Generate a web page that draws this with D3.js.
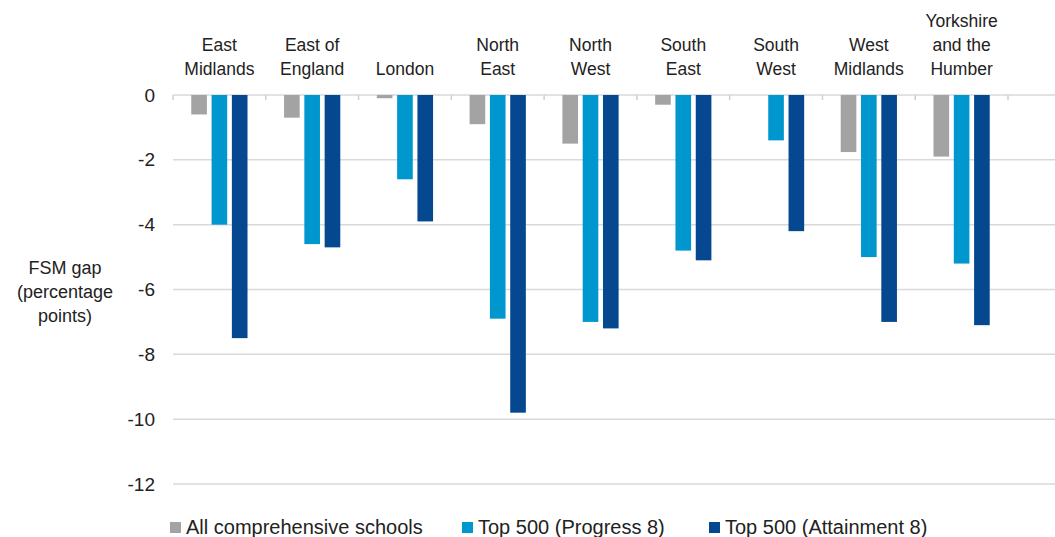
<!DOCTYPE html>
<html>
<head>
<meta charset="utf-8">
<script src="https://cdn.jsdelivr.net/npm/d3@7"></script>
<style>
  html, body { margin: 0; padding: 0; background: #fff; }
  svg { display: block; font-family: "Liberation Sans", Arial, sans-serif; }
</style>
</head>
<body>
<svg id="chart" width="1055" height="537"></svg>
<script>
const categories = [
  ["East", "Midlands"],
  ["East of", "England"],
  ["London"],
  ["North", "East"],
  ["North", "West"],
  ["South", "East"],
  ["South", "West"],
  ["West", "Midlands"],
  ["Yorkshire", "and the", "Humber"]
];
const seriesNames = ["All comprehensive schools", "Top 500 (Progress 8)", "Top 500 (Attainment 8)"];
const allComprehensive = [-0.6, -0.7, -0.1, -0.9, -1.5, -0.3, 0, -1.76, -1.9];
const top500Progress8 = [-4.0, -4.6, -2.6, -6.9, -7.0, -4.8, -1.4, -5.0, -5.2];
const top500Attainment8 = [-7.5, -4.7, -3.9, -9.8, -7.2, -5.1, -4.2, -7.0, -7.1];
const yTicks = [0, -2, -4, -6, -8, -10, -12];
const yTitle = ["FSM gap", "(percentage", "points)"];
const colors = ["#a3a3a3", "#0097cf", "#06488f"];

const seriesValues = [allComprehensive, top500Progress8, top500Attainment8];
const svg = d3.select("#chart");
const catKeys = categories.map(c => c.join(" "));

const x0 = d3.scaleBand().domain(catKeys).range([173, 1008]).paddingInner(0).paddingOuter(0);
const x1 = d3.scaleBand().domain(seriesNames).range([0, x0.bandwidth()]).paddingInner(0.23).paddingOuter(0.9);
const y = d3.scaleLinear().domain([-12, 0]).range([484, 95]);

// gridlines
svg.append("g").selectAll("line").data(yTicks).join("line")
  .attr("x1", 173).attr("x2", 1055)
  .attr("y1", d => y(d)).attr("y2", d => y(d))
  .attr("stroke", "#d9d9d9").attr("stroke-width", 1.5);

// y axis labels
const yAxis = d3.axisLeft(y).tickValues(yTicks).tickSize(0).tickPadding(0).tickFormat(d => d3.format("d")(d).replace("−", "-"));
const yg = svg.append("g").attr("transform", "translate(155,0)").call(yAxis);
yg.select(".domain").remove();
yg.selectAll("text").attr("font-size", 19).attr("fill", "#222").attr("font-family", "Liberation Sans, Arial, sans-serif");

// category ticks along zero line
const tickXs = catKeys.map(k => x0(k)).concat([x0(catKeys[catKeys.length - 1]) + x0.bandwidth()]);
svg.append("g").selectAll("line").data(tickXs).join("line")
  .attr("x1", d => d).attr("x2", d => d)
  .attr("y1", y(0)).attr("y2", y(0) + 5)
  .attr("stroke", "#cfcfcf").attr("stroke-width", 1.5);

// bars
const barData = [];
catKeys.forEach((k, i) => {
  seriesNames.forEach((s, j) => {
    barData.push({ cat: k, series: s, value: seriesValues[j][i], color: colors[j] });
  });
});
svg.append("g").selectAll("rect").data(barData).join("rect")
  .attr("x", d => x0(d.cat) + x1(d.series))
  .attr("width", x1.bandwidth())
  .attr("y", y(0))
  .attr("height", d => y(d.value) - y(0))
  .attr("fill", d => d.color);

// category labels
const lineH = 24;
const catG = svg.append("g");
categories.forEach((lines, i) => {
  const cx = x0(catKeys[i]) + x0.bandwidth() / 2;
  const n = lines.length;
  lines.forEach((t, li) => {
    catG.append("text")
      .attr("x", cx)
      .attr("y", 75 - (n - 1 - li) * lineH)
      .attr("text-anchor", "middle")
      .attr("font-size", 17.5)
      .attr("fill", "#222")
      .text(t);
  });
});

// y title
yTitle.forEach((t, i) => {
  svg.append("text")
    .attr("x", 65)
    .attr("y", 274 + i * lineH)
    .attr("text-anchor", "middle")
    .attr("font-size", 18)
    .attr("fill", "#222")
    .text(t);
});

// legend
const legendX = [170, 462, 709];
const lg = svg.append("g");
seriesNames.forEach((s, i) => {
  lg.append("rect").attr("x", legendX[i]).attr("y", 522).attr("width", 11).attr("height", 11).attr("fill", colors[i]);
  lg.append("text").attr("x", legendX[i] + 16).attr("y", 534).attr("font-size", 20).attr("fill", "#222").text(s);
});
</script>
</body>
</html>
